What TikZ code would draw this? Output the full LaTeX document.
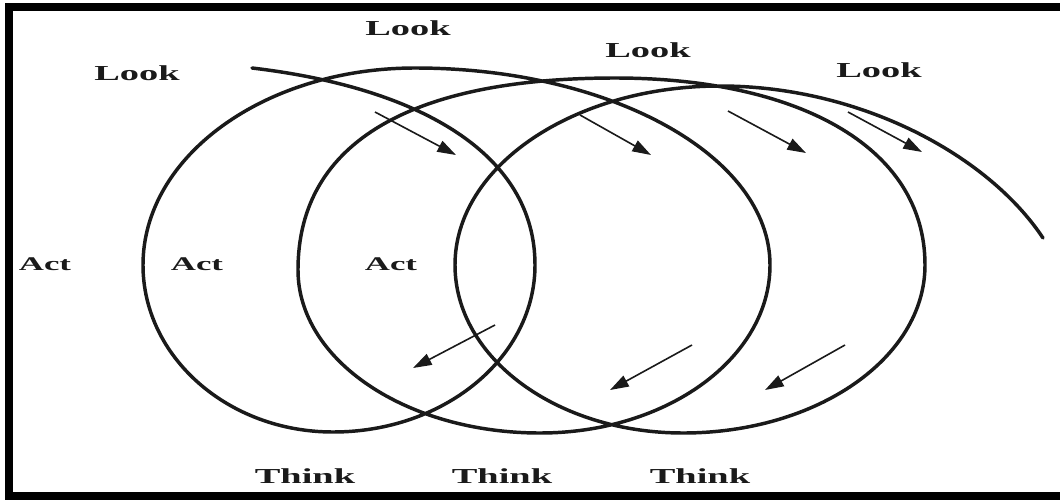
\documentclass[tikz,border=0pt]{standalone}
\usepackage{fontspec}
\setmainfont{Liberation Serif}
\usetikzlibrary{arrows.meta}
\definecolor{inkc}{HTML}{1A1A1A}
\tikzset{
  lbl/.style={inner sep=0pt, anchor=base, text=inkc, font=\bfseries\fontsize{16}{16}\selectfont, xscale=1.8},
  actlbl/.style={lbl, font=\bfseries\fontsize{14.5}{14.5}\selectfont},
  spiral/.style={draw=inkc, line width=2.6pt, line cap=round},
  flow/.style={draw=inkc, line width=1.2pt, -{Triangle[length=14pt,width=9pt]}},
  frameline/.style={draw=black, line width=6pt}
}
\begin{document}
\begin{tikzpicture}[x=0.75pt,y=-0.75pt]
\useasboundingbox (0,0) rectangle (1060,500);
\clip (0,0) rectangle (1060,500);
\fill[white] (0,0) rectangle (1060,500);
% frame
\draw[frameline] (1070,7) -- (9,7) -- (9,496) -- (1070,496);
% spiral
\draw[spiral] (252,68) .. controls (422,88) and (535,155) .. (535,265)
  .. controls (535,357) and (445,432) .. (333,432)
  .. controls (228,432) and (143,357) .. (143,265)
  .. controls (143,156) and (265,68) .. (415,68)
  .. controls (611,68) and (770,156) .. (770,265)
  .. controls (770,358) and (667,433) .. (540,433)
  .. controls (406,433) and (298,360) .. (298,270)
  .. controls (298,140) and (415,78) .. (615,78)
  .. controls (795,78) and (925,145) .. (925,265)
  .. controls (925,358) and (817,433) .. (683,433)
  .. controls (557,433) and (455,358) .. (455,265)
  .. controls (455,166) and (574,86) .. (720,86)
  .. controls (860,86) and (988,155) .. (1043,238);
% arrow end points
\coordinate (a1s) at (375,112); \coordinate (a1e) at (456,155);
\coordinate (a2s) at (580,115); \coordinate (a2e) at (651,155);
\coordinate (a3s) at (728,111); \coordinate (a3e) at (806,153);
\coordinate (a4s) at (848,112); \coordinate (a4e) at (922,152);
\coordinate (b1s) at (495,325); \coordinate (b1e) at (413,368);
\coordinate (b2s) at (692,345); \coordinate (b2e) at (610,390);
\coordinate (b3s) at (845,345); \coordinate (b3e) at (765,390);
\draw[flow] (a1s) -- (a1e);
\draw[flow] (a2s) -- (a2e);
\draw[flow] (a3s) -- (a3e);
\draw[flow] (a4s) -- (a4e);
\draw[flow] (b1s) -- (b1e);
\draw[flow] (b2s) -- (b2e);
\draw[flow] (b3s) -- (b3e);
% labels
\node[lbl] (look1) at (137,80) {Look};
\node[lbl] (look2) at (408,35) {Look};
\node[lbl] (look3) at (648,57) {Look};
\node[lbl] (look4) at (879,77) {Look};
\node[actlbl] (act1) at (45,270) {Act};
\node[actlbl] (act2) at (197,270) {Act};
\node[actlbl] (act3) at (391,270) {Act};
\node[lbl] (think1) at (305,483) {Think};
\node[lbl] (think2) at (502,483) {Think};
\node[lbl] (think3) at (700,483) {Think};
\end{tikzpicture}
\end{document}
